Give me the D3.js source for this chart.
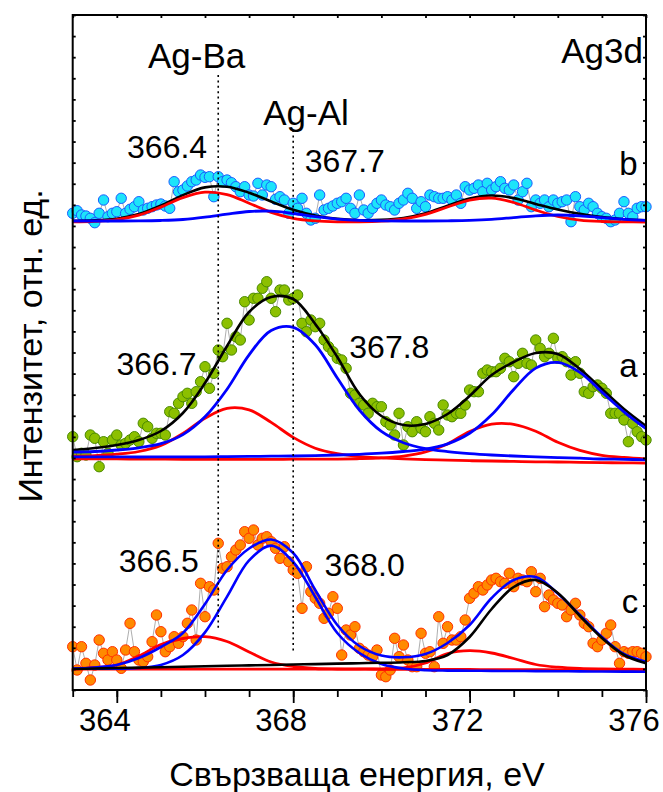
<!DOCTYPE html>
<html><head><meta charset="utf-8">
<script src="https://cdn.jsdelivr.net/npm/d3@7"></script>
<style>body{margin:0;background:#fff;} svg{display:block;} text{font-family:"Liberation Sans", Arial, sans-serif;fill:#000;}</style>
</head><body><svg id="chart" width="663" height="792"></svg>
<script>
// ---- data ----
const energies = [363.0,363.1,363.2,363.3,363.4,363.5,363.6,363.7,363.8,363.9,364.0,364.1,364.2,364.3,364.4,364.5,364.6,364.7,364.8,364.9,365.0,365.1,365.2,365.3,365.4,365.5,365.6,365.7,365.8,365.9,366.0,366.1,366.2,366.3,366.4,366.5,366.6,366.7,366.8,366.9,367.0,367.1,367.2,367.3,367.4,367.5,367.6,367.7,367.8,367.9,368.0,368.1,368.2,368.3,368.4,368.5,368.6,368.7,368.8,368.9,369.0,369.1,369.2,369.3,369.4,369.5,369.6,369.7,369.8,369.9,370.0,370.1,370.2,370.3,370.4,370.5,370.6,370.7,370.8,370.9,371.0,371.1,371.2,371.3,371.4,371.5,371.6,371.7,371.8,371.9,372.0,372.1,372.2,372.3,372.4,372.5,372.6,372.7,372.8,372.9,373.0,373.1,373.2,373.3,373.4,373.5,373.6,373.7,373.8,373.9,374.0,374.1,374.2,374.3,374.4,374.5,374.6,374.7,374.8,374.9,375.0,375.1,375.2,375.3,375.4,375.5,375.6,375.7,375.8,375.9,376.0];

const dataB = [476.7,479.3,475,474,471.7,467.3,476.7,490,473.3,476.7,478.3,491.7,476.7,480.7,483.3,488.3,480,481.7,483.3,485,486,484,481.7,508.3,498.3,500,504,508.3,510,515,512.7,513.3,493.3,513.3,508.3,510,507.3,503.3,498.3,503.3,495,494,506.7,495,505,503.3,490.7,493.3,490,476.7,486.7,481.7,491.7,476.7,470,471.7,495,480,481.7,484,486.7,488.3,491.7,481.7,476.7,495,480,476.7,481.7,486.7,490,485,483.3,480,486.7,490,496.7,491.7,481.7,488.3,483.3,495,493.3,491.7,491.7,493.3,490,495,486.7,503.3,500,501.7,505,498.3,506.7,500,503.3,508.3,501.7,500,505,490,498.3,506.7,483.3,490,486.7,490,483.3,490,486.7,488.3,490,468.3,493.3,483.3,480,486.7,483.3,476.7,473.3,471.7,468.3,470,476.7,488.3,476.7,473.3,481.7,483.3,483.3];

const dataA = [253.3,233.3,236.7,235,255,251.7,223.3,248.3,236.7,250,255,245,246.7,250,253.3,248.3,266.7,263.3,251.7,256.7,256.7,255,278.3,276.7,286.7,293.3,296.7,286.7,298.3,308.3,323.3,301.7,316.7,340,333.3,366.7,340,353.3,350,388.3,370,391.7,391.7,401.7,408.3,391.7,378.3,400,400,390,391.7,395,366.7,358.3,370,363.3,366.7,350,343.3,338.3,331.7,330,321.7,296.7,295,286.7,285,276.7,286.7,283.3,283.3,268.3,265,255,276.7,245,263.3,258.3,268.3,261.7,258.3,273.3,266.7,260,285,275,273.3,276.7,276.7,285,300,298.3,298.3,316.7,320,318.3,318.3,321.7,331.7,328.3,313.3,326.7,336.7,326.7,325,350,341.7,333.3,336.7,351.7,331.7,333.3,328.3,315,328.3,316.7,298.3,296.7,303.3,305,301.7,296.7,276.7,276.7,276.7,270,248.3,266.7,258.3,253.3,250];

const dataC = [43.3,20,43.3,26.7,10,25,50,36.7,30,38.3,30,21.7,40,66.7,38.3,30,28.3,33.3,48.3,75,58.3,38.3,43.3,53.3,46.7,53.3,66.7,80,50,106.7,73.3,103.3,100,146.7,121.7,123.3,133.3,140,145,158.3,151.7,160,145,151.7,153.3,148.3,141.7,131.7,143.3,128.3,120,116.7,81.7,123.3,98.3,91.7,86.7,71.7,76.7,93.3,81.7,35,60,55,63.3,41.7,38.3,35,33.3,40,15,13.3,20,51.7,33.3,45,30,23.3,23.3,56.7,36.7,38.3,23.3,73.3,46.7,63.3,50,50,53.3,70,91.7,96.7,103.3,100,105,110,111.7,108.3,106.7,116.7,103.3,111.7,110,108.3,118.3,98.3,111.7,83.3,95,90,86.7,85,73.3,80,86.7,75,66.7,63.3,46.7,43.3,50,56.7,65,43.3,26.7,38.3,36.7,38.3,38.3,36.7,33.3];

// fitted curves (sampled every 0.5 eV)
const fitE = [363,363.5,364,364.5,365,365.5,366,366.5,367,367.5,368,368.5,369,369.5,370,370.5,371,371.5,372,372.5,373,373.5,374,374.5,375,375.5,376];

const fitB_total = [469.1,469.6,471.3,475.9,484.4,494.9,502.6,503.3,497.3,488.5,480.2,474.5,471.1,469.8,470.1,472.0,476.7,484.2,491.5,494.5,491.9,486.1,480.5,476.1,472.9,470.7,469.6];
const fitB_red = [468.1,468.6,470.3,474.8,482.9,492.4,497.8,495.4,486.8,477.7,471.7,469.1,468.2,468.2,468.9,471.0,475.7,483.0,489.9,491.9,487.5,479.9,473.5,469.9,468.5,468.1,468];
const fitB_blue = [469,469,469,469.1,469.5,470.5,472.8,475.9,478.5,478.8,476.5,473.4,470.9,469.6,469.2,469,469,469.2,469.6,470.6,472.4,474.2,475,474.2,472.4,470.6,469.6];

const fitA_total = [240,242,245,250,259,277,307,344,378,393,391,366,333,296,274,265,266,276,294,315,328,337,336,321,301,281,264];
const fitA_blue1 = [237.9,238.5,240.0,242.2,246.3,255.4,273.2,300.8,335.2,359.5,362.7,345.3,312.0,280.0,258.6,247.3,241.4,238.4,236.4,235.0,234.0,233.2,232.4,231.8,231.0,230.7,230.2];
const fitA_blue2 = [233.2,233.1,233.1,233.0,233.1,233.1,233.2,233.4,233.6,233.8,234.0,234.4,235.0,235.7,236.8,238.5,240.8,246.1,256.7,275.2,300.5,321.9,327.6,317.7,297.9,278.2,261.3];
const fitA_red1 = [233.8,234.4,235.8,238.5,244.6,256.6,271.8,281.7,280.2,267.6,252.6,241.8,236.3,233.4,232.1,231.1,230.4,229.9,229.3,229.0,228.6,228.2,228.0,227.6,227.3,227.2,226.9];
const fitA_red2 = [231.2,231.1,231.1,230.9,230.8,230.7,230.6,230.6,230.6,230.6,230.8,230.9,230.9,231.3,232.1,233.9,238.1,246.1,258.5,265.9,265.7,258.8,247.7,239.6,234.7,232.6,231.2];

const fitC_total = [21,22.5,25,32,43,57,86,120,141.5,150.5,137,100,65,44,34.5,32.7,36,47,65,92,110,113,96.5,75,53,36,28.3];
const fitC_blue1 = [21.5,21.4,21.3,22.0,25.1,35.0,57.6,93.4,129.6,144.4,128,93,57,37,26,21.5,19.8,19.4,19.3,19.1,19.0,18.9,18.8,18.6,18.5,18.4,18.3];
const fitC_black2 = [21,21.5,22,22.4,22.8,23.3,23.7,24.2,24.6,25.0,25.5,25.9,26.4,26.8,27.2,27.8,29.0,35,53,81,103,110,97,74,52,35,26.7];
const fitC_red1 = [21,22.5,25,34,45.5,51.5,53.3,48.5,38,28,23.5,21.5,21,20.8,20.7,20.6,20.6,20.5,20.5,20.4,20.4,20.3,20.2,20.2,20.1,20.1,20];
const fitC_red2 = [20.8,20.8,20.8,20.8,20.8,20.8,20.8,20.8,20.8,20.8,20.8,20.8,20.9,21,21.2,22,27,36.5,39.3,37,31.5,25.5,22.8,21.5,21,20.8,20.7];

const xMajorTicks = [364,368,372,376];
const xMinorTicks = [363,364,365,366,367,368,369,370,371,372,373,374,375,376];
const refLines = [ {e:366.3, v0:60, v1:615}, {e:368.0, v0:37, v1:560} ];
const labels = [
  {t:"Ag-Ba", e:365.81, v:621.7, size:35, anchor:"middle"},
  {t:"Ag-Al", e:368.29, v:565, size:35, anchor:"middle"},
  {t:"Ag3d", e:375.93, v:627.3, size:35, anchor:"end"},
  {t:"366.4", e:365.14, v:531.7, size:32, anchor:"middle"},
  {t:"367.7", e:369.17, v:518.3, size:32, anchor:"middle"},
  {t:"b", e:375.60, v:515, size:33, anchor:"middle"},
  {t:"366.7", e:364.90, v:315, size:32, anchor:"middle"},
  {t:"367.8", e:370.18, v:331.7, size:32, anchor:"middle"},
  {t:"a", e:375.60, v:312.7, size:33, anchor:"middle"},
  {t:"366.5", e:364.95, v:118.3, size:32, anchor:"middle"},
  {t:"368.0", e:369.62, v:114, size:32, anchor:"middle"},
  {t:"c", e:375.64, v:76.7, size:33, anchor:"middle"}
];

// ---- chart ----
const svg = d3.select('#chart');
const L = 72.7, R = 646, T = 15, B = 690;
const x = d3.scaleLinear().domain([363,376]).range([L,R]);
const y = d3.scaleLinear().domain([0,675]).range([B,T]);
const yTickVals = d3.range(0, 33).map(i => i * 675 / 32);

const curve = d3.curveCatmullRom.alpha(0.5);
const lineData = d3.line().x((d,i)=>x(energies[i])).y(d=>y(d));
const lineFit = d3.line().x((d,i)=>x(fitE[i])).y(d=>y(d)).curve(curve);

function drawSpectrum(vals, fill, stroke, fits){
  const g = svg.append('g');
  g.append('path').attr('d', lineData(vals)).attr('fill','none').attr('stroke','#999').attr('stroke-width',0.8);
  g.selectAll('circle').data(vals).join('circle')
    .attr('cx',(d,i)=>x(energies[i])).attr('cy',d=>y(d)).attr('r',5.2)
    .attr('fill',fill).attr('stroke',stroke).attr('stroke-width',1);
  fits.forEach(f=>{
    g.append('path').attr('d', lineFit(f.v)).attr('fill','none')
      .attr('stroke', f.c).attr('stroke-width', f.w).attr('stroke-linejoin','round');
  });
}

drawSpectrum(dataB, '#1de4fa', '#1a5cff', [
  {v:fitB_total, c:'#000', w:2.6},
  {v:fitB_red, c:'#ff0000', w:2.8},
  {v:fitB_blue, c:'#0000ff', w:2.8}
]);
drawSpectrum(dataA, '#8cc000', '#4b8a00', [
  {v:fitA_total, c:'#000', w:2.6},
  {v:fitA_red1, c:'#ff0000', w:2.8},
  {v:fitA_red2, c:'#ff0000', w:2.8},
  {v:fitA_blue1, c:'#0000ff', w:2.8},
  {v:fitA_blue2, c:'#0000ff', w:2.8}
]);
drawSpectrum(dataC, '#ff8a00', '#ff3000', [
  {v:fitC_red1, c:'#ff0000', w:2.8},
  {v:fitC_red2, c:'#ff0000', w:2.8},
  {v:fitC_blue1, c:'#0000ff', w:2.6},
  {v:fitC_total, c:'#0000ff', w:2.6},
  {v:fitC_black2, c:'#000', w:2.6}
]);

// reference dotted lines (on top of the data)
svg.append('g').selectAll('line').data(refLines).join('line')
  .attr('x1', d=>x(d.e)).attr('x2', d=>x(d.e))
  .attr('y1', d=>y(d.v1)).attr('y2', d=>y(d.v0))
  .attr('stroke','#000').attr('stroke-width',1.6).attr('stroke-dasharray','2,3.4');

// axes
const gx = svg.append('g').attr('transform',`translate(0,${B})`)
  .call(d3.axisBottom(x).tickValues(xMinorTicks).tickSize(7).tickFormat(''));
const gx2 = svg.append('g').attr('transform',`translate(0,${B})`)
  .call(d3.axisBottom(x).tickValues(xMajorTicks).tickSize(13).tickFormat(''));
const gt = svg.append('g').attr('transform',`translate(0,${T})`)
  .call(d3.axisBottom(x).tickValues(xMinorTicks).tickSize(3).tickFormat(''));
const gl = svg.append('g').attr('transform',`translate(${L},0)`)
  .call(d3.axisRight(y).tickValues(yTickVals).tickSize(3).tickFormat(''));
const gr = svg.append('g').attr('transform',`translate(${R},0)`)
  .call(d3.axisLeft(y).tickValues(yTickVals).tickSize(3).tickFormat(''));
[gx,gx2,gt,gl,gr].forEach(g=>{
  g.select('.domain').remove();
  g.selectAll('.tick line').attr('stroke','#000').attr('stroke-width',1.8);
});
svg.append('rect').attr('x',L).attr('y',T).attr('width',R-L).attr('height',B-T)
  .attr('fill','none').attr('stroke','#000').attr('stroke-width',2);

// tick labels
svg.append('g').selectAll('text').data(xMajorTicks).join('text')
  .attr('x', d=>x(d)-12).attr('y', 730.7).attr('text-anchor','middle')
  .attr('font-size',31).text(d=>d);

// annotations
svg.append('g').selectAll('text').data(labels).join('text')
  .attr('x', d=>x(d.e)).attr('y', d=>y(d.v)).attr('text-anchor', d=>d.anchor)
  .attr('font-size', d=>d.size).text(d=>d.t);

// axis titles
svg.append('text').attr('x', 357).attr('y', 786).attr('text-anchor','middle')
  .attr('font-size',34).text('Свързваща енергия, eV');
svg.append('text').attr('transform','translate(42,346) rotate(-90)').attr('text-anchor','middle')
  .attr('font-size',34).text('Интензитет, отн. ед.');
</script></body></html>
